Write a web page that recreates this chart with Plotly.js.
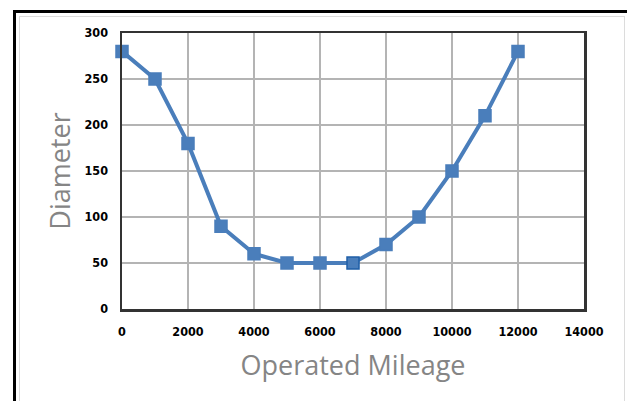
<!DOCTYPE html>
<html>
<head>
<meta charset="utf-8">
<script src="https://cdn.plot.ly/plotly-3.0.1.min.js"></script>
<style>
  html, body { margin: 0; padding: 0; background: #fff; }
  #wrap { position: relative; width: 627px; height: 401px; overflow: hidden; }
  #frame { position: absolute; left: 13px; top: 10px; width: 640px; height: 420px;
           border-left: 3px solid #000; border-top: 3px solid #000; }
  #inner { position: absolute; left: 19px; top: 16px; width: 604px; height: 400px;
           border: 1px solid #dcdcdc; }
  #chart { position: absolute; left: 0; top: 0; width: 627px; height: 401px; }
</style>
</head>
<body>
<div id="wrap">
  <div id="frame"></div>
  <div id="inner"></div>
  <div id="chart"></div>
</div>
<script>
const mileage = [0, 1000, 2000, 3000, 4000, 5000, 6000, 7000, 8000, 9000, 10000, 11000, 12000];
const diameter = [280, 250, 180, 90, 60, 50, 50, 50, 70, 100, 150, 210, 280];
const xTicks = [0, 2000, 4000, 6000, 8000, 10000, 12000, 14000];
const yTicks = [0, 50, 100, 150, 200, 250, 300];

const blue = '#4a7ebb';
const markerLineColors = mileage.map((m, i) => i === 7 ? '#1f5fa8' : blue);

const trace = {
  x: mileage,
  y: diameter,
  type: 'scatter',
  mode: 'lines+markers',
  line: { color: blue, width: 4 },
  marker: { symbol: 'square', size: 12, color: blue,
            line: { color: markerLineColors, width: 1.5 } },
  cliponaxis: false,
  hoverinfo: 'none'
};

const tickFont = { family: '"Liberation Sans Narrow", "DejaVu Sans Condensed", Arial, sans-serif', size: 12.5, color: '#000', weight: 'bold' };
const titleFont = { family: '"Open Sans", Lato, sans-serif', size: 27, color: '#858585' };

const layout = {
  width: 627, height: 401,
  margin: { l: 122, r: 43, t: 33, b: 92 },
  paper_bgcolor: 'rgba(0,0,0,0)',
  plot_bgcolor: '#fff',
  showlegend: false,
  xaxis: {
    range: [0, 14000], tickvals: xTicks, ticktext: xTicks.map(String),
    showgrid: true, gridcolor: '#b4b4b4', gridwidth: 1.5,
    showline: true, linecolor: '#333', linewidth: 2.5, mirror: true,
    zeroline: false, ticks: 'outside', ticklen: 9, tickcolor: 'rgba(0,0,0,0)',
    tickfont: tickFont,
    title: { text: 'Operated Mileage', font: titleFont, standoff: 19 }
  },
  yaxis: {
    range: [0, 300], tickvals: yTicks, ticktext: yTicks.map(String),
    showgrid: true, gridcolor: '#b4b4b4', gridwidth: 1.5,
    showline: true, linecolor: '#333', linewidth: 2.5, mirror: true,
    zeroline: false, ticks: 'outside', ticklen: 9, tickcolor: 'rgba(0,0,0,0)',
    tickfont: tickFont,
    title: { text: 'Diameter', font: titleFont, standoff: 6 }
  }
};

Plotly.newPlot('chart', [trace], layout, { staticPlot: true, displayModeBar: false });
</script>
</body>
</html>
